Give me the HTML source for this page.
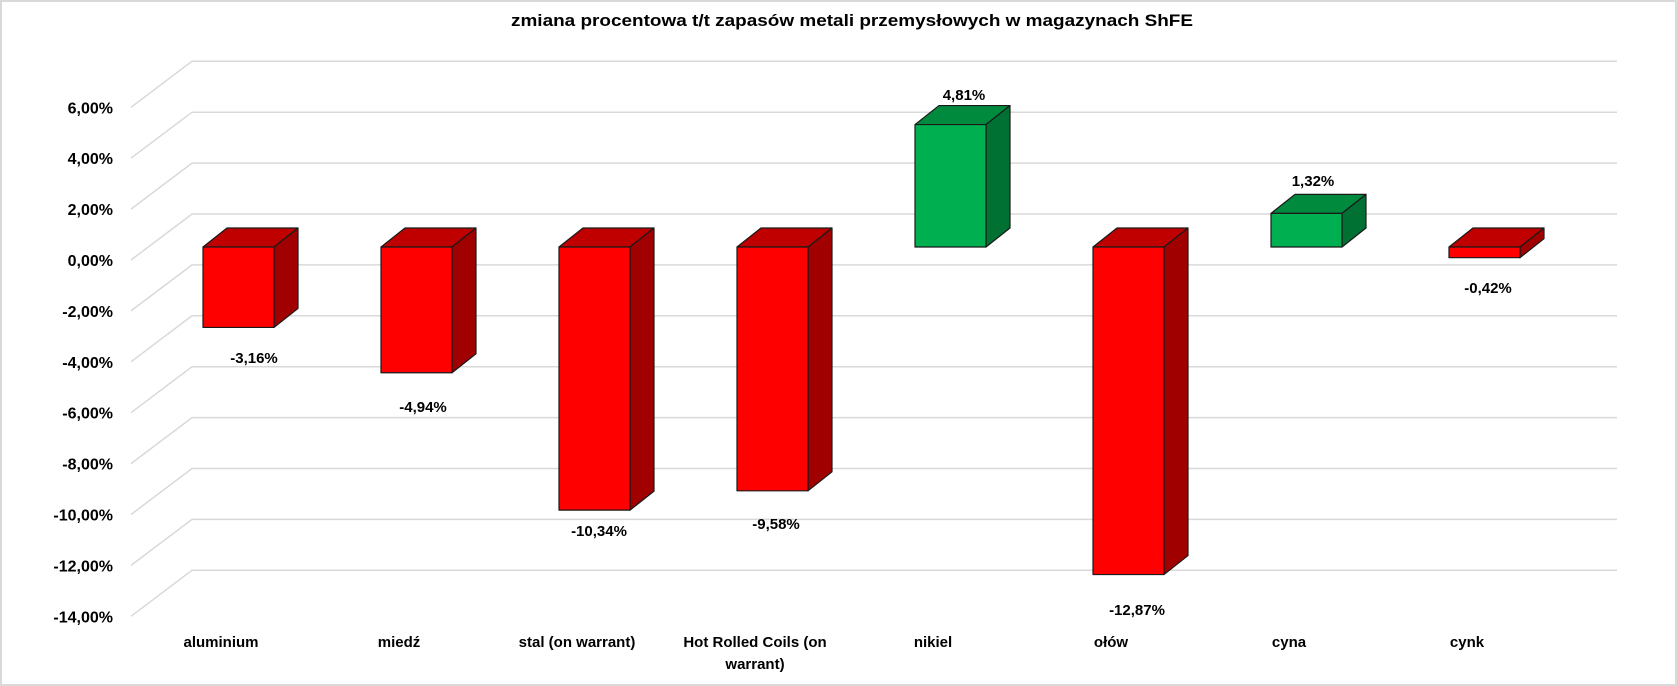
<!DOCTYPE html>
<html><head><meta charset="utf-8"><style>
html,body{margin:0;padding:0;background:#fff;}
svg{display:block;font-family:"Liberation Sans",sans-serif;font-weight:bold;}
</style></head><body>
<svg width="1677" height="686" viewBox="0 0 1677 686" xmlns="http://www.w3.org/2000/svg">
<rect x="1" y="1" width="1675" height="684" fill="#fff" stroke="#d9d9d9" stroke-width="2"/>
<text x="852" y="26" text-anchor="middle" font-size="17" textLength="682" lengthAdjust="spacingAndGlyphs" fill="#000">zmiana procentowa t/t zapasów metali przemysłowych w magazynach ShFE</text>
<g stroke="#d9d9d9" stroke-width="1.5" fill="none" id="grid"></g>
<g id="ylab" font-size="16" text-anchor="end" fill="#000"></g>
<g id="bars" stroke="#1a1a1a" stroke-width="1.2" stroke-linejoin="round"></g>
<g id="vlab" font-size="15" text-anchor="middle" fill="#000"></g>
<g font-size="15" text-anchor="middle" fill="#000">
<text x="221" y="647">aluminium</text>
<text x="399" y="647">miedź</text>
<text x="577" y="647">stal (on warrant)</text>
<text x="755" y="647">Hot Rolled Coils (on</text>
<text x="755" y="669">warrant)</text>
<text x="933" y="647">nikiel</text>
<text x="1111" y="647">ołów</text>
<text x="1289" y="647">cyna</text>
<text x="1467" y="647">cynk</text>
</g>
<script>
var ns="http://www.w3.org/2000/svg";
function el(p,t,a,txt){var e=document.createElementNS(ns,t);for(var k in a)e.setAttribute(k,a[k]);if(txt)e.textContent=txt;document.getElementById(p).appendChild(e);}
var s=25.45;
for(var v=6;v>=-14;v-=2){var yb=214-s*v,yf=260-s*v;
el("grid","polyline",{points:"131,"+yf+" 192,"+yb+" 1617,"+yb});
el("ylab","text",{x:113,y:yf+6},(v<0?"-":"")+Math.abs(v)+",00%");}
var vals=[-3.16,-4.94,-10.34,-9.58,4.81,-12.87,1.32,-0.42];
var lx=[254,423,599,776,964,1137,1313,1488],ly=[358,407,531,524,95,610,181,288];
var y0=247,w=71,dx=24,dy=-19;
vals.forEach(function(v,i){
 var x=203+178*i, pos=v>0;
 var top=pos?y0-v*s:y0, bot=pos?y0:y0-v*s;
 var cf=pos?"#00B050":"#FF0000", ct=pos?"#008A3E":"#C00000", cs=pos?"#007033":"#A00000";
 el("bars","polygon",{points:x+","+top+" "+(x+dx)+","+(top+dy)+" "+(x+w+dx)+","+(top+dy)+" "+(x+w)+","+top,fill:ct});
 el("bars","polygon",{points:(x+w)+","+top+" "+(x+w+dx)+","+(top+dy)+" "+(x+w+dx)+","+(bot+dy)+" "+(x+w)+","+bot,fill:cs});
 el("bars","rect",{x:x,y:top,width:w,height:bot-top,fill:cf});
 el("vlab","text",{x:lx[i],y:ly[i]+5},(v<0?"-":"")+Math.abs(v).toFixed(2).replace(".",",")+"%");
});
</script>
</svg>
</body></html>
